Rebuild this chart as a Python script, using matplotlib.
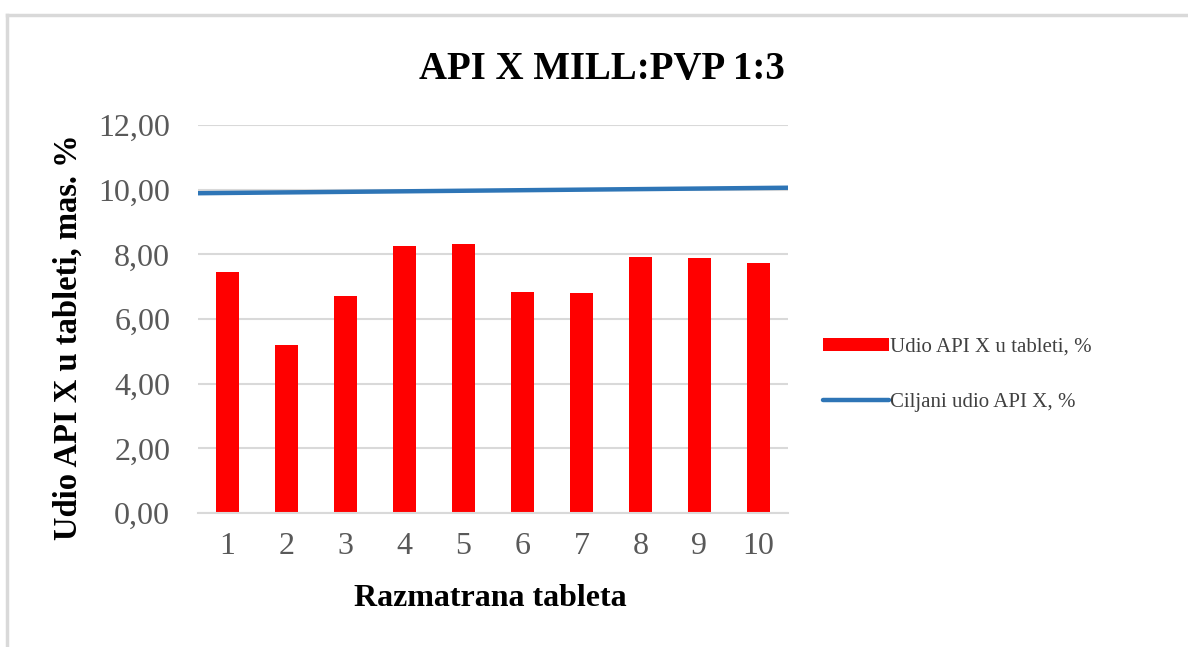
import numpy as np
import matplotlib
matplotlib.use("Agg")
from matplotlib import pyplot as plt
from matplotlib.lines import Line2D

# data
tablets = [1, 2, 3, 4, 5, 6, 7, 8, 9, 10]
udio = [7.44, 5.19, 6.71, 8.27, 8.32, 6.83, 6.80, 7.93, 7.88, 7.72]
target_x = [0.5, 10.5]
target_y = [9.89, 10.06]
y_ticks = [0, 2, 4, 6, 8, 10, 12]

plt.rcParams['font.family'] = ['Liberation Serif', 'DejaVu Serif']

fig = plt.figure(figsize=(11.88, 6.47), dpi=100)
ax = fig.add_axes([198 / 1188, 1 - 513 / 647, 590 / 1188, 388 / 647])

bars = ax.bar(tablets, udio, width=0.4, color='#ff0000', zorder=3)
line, = ax.plot(target_x, target_y, color='#2e75b6', lw=3.2,
                solid_capstyle='round', zorder=4)

ax.set_xlim(0.5, 10.5)
ax.set_ylim(0, 12)
ax.set_xticks(tablets)
ax.set_yticks(y_ticks)
ax.set_yticklabels([f"{v:.2f}".replace('.', ',') for v in y_ticks])
ax.tick_params(length=0, labelsize=23, labelcolor='#595959')
ax.tick_params(axis='x', pad=14)
ax.tick_params(axis='y', pad=20)
ax.grid(axis='y', color='#d9d9d9', lw=1.5, zorder=0)
for s in ['top', 'right', 'left']:
    ax.spines[s].set_visible(False)
ax.spines['bottom'].set_color('#d9d9d9')
ax.spines['bottom'].set_linewidth(1.5)
ax.spines['bottom'].set_zorder(5)

ax.set_xlabel('Razmatrana tableta', fontsize=23, fontweight='bold')
ax.set_ylabel('Udio API X u tableti, mas. %', fontsize=23.5, fontweight='bold')
ax.xaxis.set_label_coords((490 - 198) / 590, (513 - 599) / 388)
ax.xaxis.label.set_va('center')
ax.yaxis.set_label_coords((68 - 198) / 590, (513 - 337) / 388)
ax.yaxis.label.set_va('center')
fig.text(602 / 1188, 1 - 70 / 647, 'API X MILL:PVP 1:3', fontsize=28,
         fontweight='bold', ha='center', va='center')

leg = ax.legend([bars, line], ['Udio API X u tableti, %', 'Ciljani udio API X, %'],
                loc='center left', bbox_to_anchor=(804 / 1188, 1 - 375 / 647),
                bbox_transform=fig.transFigure, frameon=False, fontsize=15,
                handlelength=3.2, handleheight=0.6, handletextpad=0.05,
                labelspacing=1.75)
for t in leg.get_texts():
    t.set_color('#404040')

# light grey chart frame (top and left edges)
fig.add_artist(Line2D([7 / 1188, 1], [1 - 15 / 647, 1 - 15 / 647],
                      color='#d9d9d9', lw=2.5, transform=fig.transFigure))
fig.add_artist(Line2D([7 / 1188, 7 / 1188], [0, 1 - 15 / 647],
                      color='#d9d9d9', lw=2.5, transform=fig.transFigure))

fig.savefig('out.png', dpi=100, facecolor='white')
